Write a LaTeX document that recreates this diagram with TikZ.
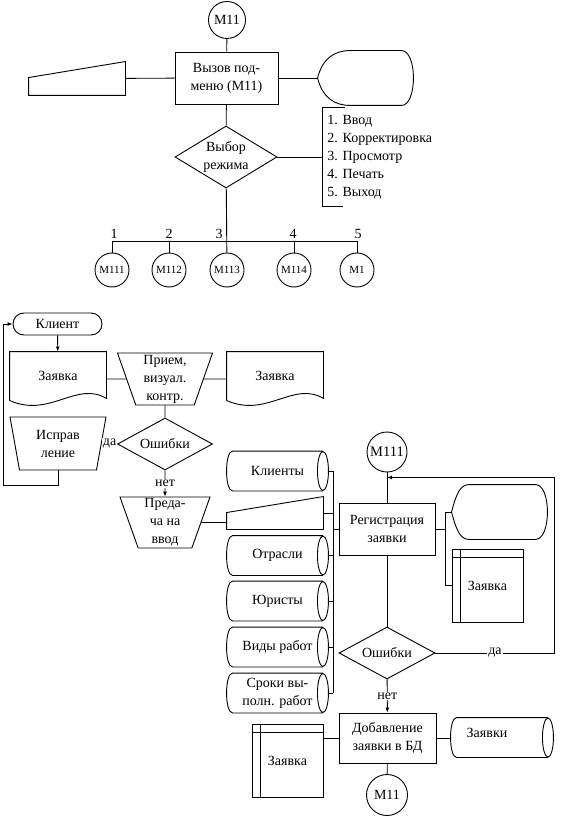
\documentclass[tikz,border=0pt]{standalone}
\usepackage{fontspec}
\setmainfont{Liberation Serif}
\usetikzlibrary{shapes.geometric,arrows.meta,calc}

% outlines of the symbols that have no ready node shape
\newcommand\kbdout[1]{%
  \draw (#1.south west) -- (#1.south east) -- (#1.north east)
    -- ($(#1.north west)+(0,16)$) -- cycle;}
\newcommand\dispout[2]{%
  \draw (#1.west) .. controls ($(#1.north west)+(5,8)$) and ($(#1.north west)+(#2/2,0)$) .. ($(#1.north west)+(#2,0)$)
    -- ($(#1.north east)+(-12,0)$)
    .. controls ($(#1.north east)+(4,0)$) and ($(#1.south east)+(4,0)$) .. ($(#1.south east)+(-12,0)$)
    -- ($(#1.south west)+(#2,0)$)
    .. controls ($(#1.south west)+(#2/2,0)$) and ($(#1.south west)+(5,-8)$) .. (#1.west);}
\newcommand\docout[1]{%
  \draw (#1.south west) -- (#1.north west) -- (#1.north east) -- ($(#1.south east)+(0,-2)$)
    .. controls ($(#1.south east)+(-30,-20)$) and ($(#1.south west)+(40,18)$) .. (#1.south west);}
\newcommand\cylout[1]{%
  \draw ($(#1.north west)+(6,0)$) -- ($(#1.north east)+(-5.5,0)$)
    ($(#1.south west)+(6,0)$) -- ($(#1.south east)+(-5.5,0)$)
    ($(#1.north west)+(6,0)$) .. controls ($(#1.north west)+(-2,0)$)
      and ($(#1.south west)+(-2,0)$) .. ($(#1.south west)+(6,0)$)
    ($(#1.east)+(-5.5,0)$) ellipse[x radius=5.5, y radius=19.5];}
\newcommand\storeout[1]{%
  \draw ($(#1.north west)+(0,9)$) -- ($(#1.north east)+(0,9)$)
    ($(#1.north west)+(9,0)$) -- ($(#1.south west)+(9,0)$);}

\begin{document}
\begin{tikzpicture}[x=1pt, y=-1pt, line width=0.9pt,
  every node/.style={font=\fontsize{14}{18}\selectfont},
  conn/.style={draw, circle, inner sep=0pt, minimum size=34},
  proc/.style={draw, rectangle, align=center, inner sep=0pt},
  decide/.style={draw, diamond, aspect=1.7, inner sep=0pt, align=center},
  manop/.style={draw, trapezium, trapezium stretches body=true, shape border rotate=180,
    trapezium left angle=70, trapezium right angle=70, align=center, inner sep=1pt},
  term/.style={draw, rounded corners=11, minimum width=89, minimum height=22, inner sep=0pt},
  docbox/.style={minimum width=96, minimum height=48, inner sep=0pt},
  kbdbox/.style={minimum width=96, minimum height=33, inner sep=0pt},
  dispbox/.style={minimum width=95, minimum height=54, inner sep=0pt},
  cylbox/.style={minimum width=101, minimum height=39, inner sep=0pt, align=center},
  storebox/.style={draw, minimum width=71, minimum height=73, inner sep=0pt},
  lbl/.style={fill=white, inner sep=1pt},
  flow/.style={-{Latex[length=5pt, width=4pt]}}]
  \useasboundingbox (0,0) rectangle (563,826);

  % sub-menu call
  \node[conn, minimum size=37] (m11a) at (227,20) {М11};
  \node[proc, minimum width=103, minimum height=52] (menu) at (226.5,78) {Вызов под-\\меню (М11)};
  \node[kbdbox] (kbd1) at (77,78.5) {};
  \node[dispbox] (disp1) at (365.5,78) {};
  \node[decide, minimum width=102, minimum height=62] (mode) at (226,157) {Выбор\\режима};
  \node[anchor=north west, align=left, inner sep=0pt] (modes) at (327,115)
    {1. Ввод\\2. Корректировка\\3. Просмотр\\4. Печать\\5. Выход};
  \kbdout{kbd1}
  \dispout{disp1}{33}
  \draw (m11a) -- (menu);
  \draw (menu) -- (kbd1);
  \draw (menu) -- (disp1);
  \draw (menu) -- (mode);
  \coordinate (brk) at (322,0);
  \draw (mode.east) -- (mode.east -| brk);
  \draw (345,107) -| (322,206) -- (343,206);

  % branches of the menu
  \coordinate (bus) at (0,241);
  \foreach \n/\x/\t in {m111/112/М111, m112/169/М112, m113/227/М113, m114/294/М114, m1/357/М1}
    \node[conn, font=\fontsize{11}{13}\selectfont] (\n) at (\x,270) {\t};
  \draw (mode) -- (m113);
  \draw (m111.north) -- (m111.north |- bus) -- (m1.north |- bus) -- (m1.north);
  \foreach \n in {m112,m114} \draw (\n.north) -- (\n.north |- bus);
  \foreach \x/\k in {114/1, 169/2, 219/3, 293/4, 358/5}
    \node[anchor=south, inner sep=1pt] (num\k) at (\x,240) {\k};

  % taking the request
  \node[term] (client) at (57.5,324) {Клиент};
  \node[docbox] (zay1) at (58,376) {Заявка};
  \node[manop, minimum width=95, minimum height=52] (priem) at (165,379) {Прием,\\визуал.\\контр.};
  \node[docbox] (zay2) at (275,376) {Заявка};
  \node[decide, minimum width=95, minimum height=52] (err1) at (165,444) {Ошибки};
  \node[manop, trapezium left angle=72, trapezium right angle=72,
    minimum width=96, minimum height=53] (ispr) at (58,443.5) {Исправ\\ление};
  \node[manop, minimum width=90, minimum height=51] (pered) at (165,522.5) {Преда-\\ча на\\ввод};
  \docout{zay1}
  \docout{zay2}
  \draw[flow] (client) -- (zay1);
  \draw (priem) -- (priem -| zay1.east);
  \draw (priem) -- (priem -| zay2.west);
  \draw (priem) -- (err1);
  \draw[flow] (err1) -- node[lbl] {да} (ispr);
  \draw[flow] (err1) -- node[lbl] {нет} (pered);
  \draw[flow] (ispr) |- (3,485) |- (client);

  % registration
  \node[kbdbox, minimum height=32] (kbd2) at (275,513) {};
  \node[cylbox] (klienty) at (277.5,471) {Клиенты};
  \node[cylbox] (otrasli) at (277.5,555.5) {Отрасли};
  \node[cylbox] (yuristy) at (277.5,601) {Юристы};
  \node[cylbox] (vidy) at (277.5,647) {Виды работ};
  \node[cylbox] (sroki) at (277.5,693) {Сроки вы-\\полн. работ};
  \node[proc, minimum width=96, minimum height=52] (reg) at (387,529) {Регистрация\\заявки};
  \node[conn, minimum size=40, font=\fontsize{14.5}{16}\selectfont] (m111b) at (387,452) {М111};
  \node[dispbox] (disp2) at (499.5,512) {};
  \node[storebox] (store1) at (487.5,585.5) {Заявка};
  \node[decide, minimum width=96, minimum height=52] (err2) at (387,653) {Ошибки};
  \node[proc, minimum width=97, minimum height=50] (add) at (387.5,738) {Добавление\\заявки в БД};
  \node[storebox] (store2) at (287.5,760.5) {Заявка};
  \node[cylbox, minimum width=102] (zayavki) at (502,737.5) {};
  \node (zayavkitxt) at (487,733) {Заявки};
  \node[conn, minimum size=41] (m11b) at (387,795) {М11};
  \kbdout{kbd2}
  \dispout{disp2}{18}
  \foreach \n in {klienty,otrasli,yuristy,vidy,sroki} {\cylout{\n}}
  \cylout{zayavki}
  \storeout{store1}
  \storeout{store2}
  \coordinate (cbus) at (333,0);
  \coordinate (rbus) at (445,0);
  \draw (pered) -- (pered -| kbd2.west);
  \foreach \n in {klienty,kbd2,otrasli,yuristy,vidy,sroki}
    \draw (\n.east) -- (\n.east -| cbus);
  \draw (klienty.east -| cbus) -- (sroki.east -| cbus);
  \draw (reg.west) -- (reg.west -| cbus);
  \draw (m111b) -- (reg);
  \draw (reg.east) -- (reg.east -| rbus);
  \draw (disp2.west) -| (rbus |- store1.west) -- (store1.west);
  \draw (reg) -- (err2);
  \draw[flow] (err2) -- node[lbl] {нет} (add);
  \draw[flow] (err2.east) -- node[lbl] {да} ++(119,0) |- ($(m111b.south)+(0,5)$);
  \draw (add.west) -- (add.west -| store2.east);
  \draw (add.east) -- (add.east -| zayavki.west);
  \draw (add) -- (m11b);
\end{tikzpicture}
\end{document}
